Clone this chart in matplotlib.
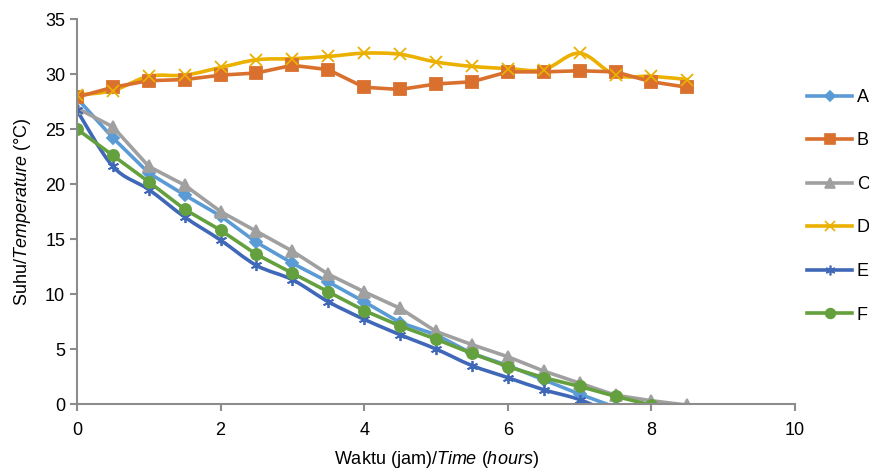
import matplotlib
matplotlib.use("Agg")
import matplotlib.pyplot as plt
from matplotlib.path import Path
from matplotlib.patches import PathPatch
from matplotlib.lines import Line2D
import numpy as np

plt.rcParams['font.family'] = ['Liberation Sans', 'DejaVu Sans']
plt.rcParams['mathtext.fontset'] = 'custom'
plt.rcParams['mathtext.rm'] = 'Liberation Sans'
plt.rcParams['mathtext.it'] = 'Liberation Sans:italic'

time_A = [0, 0.5, 1, 1.5, 2, 2.5, 3, 3.5, 4, 4.5, 5, 5.5, 6, 6.5, 7, 7.5]
temp_A = [27.8, 24.2, 21.0, 19.0, 17.1, 14.7, 12.8, 11.1, 9.3, 7.4, 6.3, 4.6, 3.5, 2.2, 0.9, -0.3]

time_B = [0, 0.5, 1, 1.5, 2, 2.5, 3, 3.5, 4, 4.5, 5, 5.5, 6, 6.5, 7, 7.5, 8, 8.5]
temp_B = [27.9, 28.8, 29.4, 29.5, 29.9, 30.1, 30.8, 30.4, 28.8, 28.6, 29.1, 29.3, 30.2, 30.2, 30.3, 30.2, 29.3, 28.8]

time_C = [0, 0.5, 1, 1.5, 2, 2.5, 3, 3.5, 4, 4.5, 5, 5.5, 6, 6.5, 7, 7.5, 8, 8.5]
temp_C = [26.9, 25.2, 21.6, 19.9, 17.5, 15.7, 13.9, 11.8, 10.2, 8.7, 6.6, 5.4, 4.3, 3.0, 1.9, 0.8, 0.3, -0.1]

time_D = [0, 0.5, 1, 1.5, 2, 2.5, 3, 3.5, 4, 4.5, 5, 5.5, 6, 6.5, 7, 7.5, 8, 8.5]
temp_D = [28.1, 28.5, 29.8, 29.9, 30.6, 31.3, 31.4, 31.6, 31.9, 31.8, 31.1, 30.7, 30.5, 30.4, 31.9, 29.9, 29.8, 29.5]

time_E = [0, 0.5, 1, 1.5, 2, 2.5, 3, 3.5, 4, 4.5, 5, 5.5, 6, 6.5, 7, 7.5]
temp_E = [26.7, 21.6, 19.5, 17.0, 14.9, 12.6, 11.3, 9.3, 7.7, 6.3, 5.0, 3.5, 2.4, 1.3, 0.4, -1.0]

time_F = [0, 0.5, 1, 1.5, 2, 2.5, 3, 3.5, 4, 4.5, 5, 5.5, 6, 6.5, 7, 7.5, 8]
temp_F = [25.0, 22.6, 20.2, 17.7, 15.8, 13.6, 11.9, 10.2, 8.5, 7.1, 5.9, 4.6, 3.4, 2.4, 1.6, 0.7, -0.1]

labels = ['A', 'B', 'C', 'D', 'E', 'F']
colors = ['#5B9BD5', '#D9702E', '#A0A0A0', '#EBB000', '#4068B8', '#65A03F']
markers = ['D', 's', '^', 'x', (6, 2, 0), 'o']
msizes = [6, 8, 8, 8, 8, 8]
smooth = [False, False, False, True, True, False]

xs = [time_A, time_B, time_C, time_D, time_E, time_F]
ys = [temp_A, temp_B, temp_C, temp_D, temp_E, temp_F]

fig = plt.figure(figsize=(8.7, 4.7), dpi=100)
ax = fig.add_axes([0.0885, 0.1404, 0.8253, 0.819])

def smooth_path(x, y):
    x = np.asarray(x, float); y = np.asarray(y, float)
    n = len(x)
    verts = [(x[0], y[0])]
    codes = [Path.MOVETO]
    for i in range(n - 1):
        p0 = np.array([x[max(i - 1, 0)], y[max(i - 1, 0)]])
        p1 = np.array([x[i], y[i]])
        p2 = np.array([x[i + 1], y[i + 1]])
        p3 = np.array([x[min(i + 2, n - 1)], y[min(i + 2, n - 1)]])
        c1 = p1 + (p2 - p0) / 6.0
        c2 = p2 - (p3 - p1) / 6.0
        verts += [tuple(c1), tuple(c2), tuple(p2)]
        codes += [Path.CURVE4] * 3
    return Path(verts, codes)

handles = []
for x, y, lab, c, m, ms, sm in zip(xs, ys, labels, colors, markers, msizes, smooth):
    if sm:
        patch = PathPatch(smooth_path(x, y), facecolor='none', edgecolor=c,
                          lw=2.6, transform=ax.transData, capstyle='round', joinstyle='round')
        ax.add_patch(patch)
        ax.plot(x, y, linestyle='none', marker=m, color=c, ms=ms, mew=1.3)
    else:
        ax.plot(x, y, color=c, lw=2.6, marker=m, ms=ms, mew=1.3)
    handles.append(Line2D([0], [0], color=c, lw=2.6, marker=m, ms=ms - 1, mew=1.2))

ax.set_xlim(0, 10)
ax.set_ylim(0, 35)
ax.set_xticks([0, 2, 4, 6, 8, 10])
ax.set_yticks([0, 5, 10, 15, 20, 25, 30, 35])
for s in ['top', 'right']:
    ax.spines[s].set_visible(False)
for s in ['left', 'bottom']:
    ax.spines[s].set_color('#8C8C8C')
    ax.spines[s].set_linewidth(1.5)
ax.tick_params(axis='both', colors='#8C8C8C', length=5, width=1.5, labelsize=13, labelcolor='black')
ax.tick_params(axis='x', pad=8)

ax.set_xlabel(r"Waktu (jam)/$\mathit{Time\ (hours)}$", fontsize=13, labelpad=7)
ax.set_ylabel(r"Suhu/$\mathit{Temperature}$ (°C)", fontsize=13, labelpad=9)

leg = fig.legend(handles, labels, loc='upper left', bbox_to_anchor=(0.9276, 0.811),
                 frameon=False, fontsize=13, handlelength=2.5, handletextpad=0.25,
                 labelspacing=1.47, borderpad=0, borderaxespad=0)

fig.savefig('out.png', dpi=100)
